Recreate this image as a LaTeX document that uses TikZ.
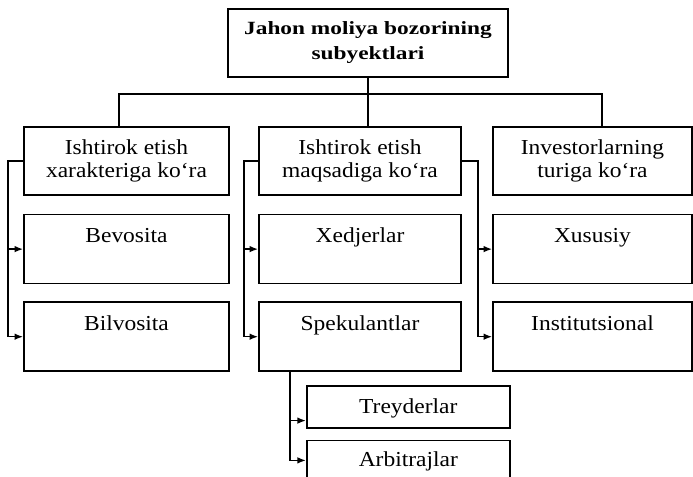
\documentclass[tikz,border=0pt]{standalone}
\usepackage{fontspec}
\setmainfont{Liberation Serif}[FakeStretch=1.1]
\newfontfamily\titlefont{Liberation Serif}[FakeStretch=1.25]
\usepackage{tikz}
\usetikzlibrary{positioning, arrows.meta}

\begin{document}
\begin{tikzpicture}[x=0.75pt, y=-0.75pt, font=\fontsize{16}{17.25}\selectfont, >={Latex[length=6.5pt, width=5pt]}, line width=1.2pt,
  titlebox/.style={rectangle, draw, minimum width=210pt, minimum height=51pt, align=center, font=\titlefont\bfseries\fontsize{14}{18.75}\selectfont},
  katbox/.style={rectangle, draw, minimum height=51pt, align=center},
  itembox/.style={rectangle, draw, inner ysep=0pt, text height=21pt, text depth=30.75pt},
  subbox/.style={rectangle, draw, inner ysep=0pt, minimum width=152.25pt, text height=21pt, text depth=10.5pt}]
  \clip (0,0) rectangle (693,477);
  \node[titlebox] (top) at (368,43) {Jahon moliya bozorining\\subyektlari};
  \node[katbox, minimum width=153.75pt] (kat1) at (126.5,161) {Ishtirok etish\\xarakteriga ko‘ra};
  \node[katbox, minimum width=151.5pt] (kat2) at (360,161) {Ishtirok etish\\maqsadiga ko‘ra};
  \node[katbox, minimum width=149.25pt] (kat3) at (592.5,161) {Investorlarning\\turiga ko‘ra};
  \node[itembox, minimum width=153.75pt, below=13.5pt of kat1] (bev) {Bevosita};
  \node[itembox, minimum width=153.75pt, below=12.75pt of bev] (bil) {Bilvosita};
  \node[itembox, minimum width=151.5pt, below=13.5pt of kat2] (xed) {Xedjerlar};
  \node[itembox, minimum width=151.5pt, below=12.75pt of xed] (spek) {Spekulantlar};
  \node[itembox, minimum width=149.25pt, below=13.5pt of kat3] (xus) {Xususiy};
  \node[itembox, minimum width=149.25pt, below=12.75pt of xus] (inst) {Institutsional};
  \node[subbox, anchor=north west] (trey) at (306,385) {Treyderlar};
  \node[subbox, text height=19.5pt, below=8.25pt of trey] (arb) {Arbitrajlar};
  \coordinate (busL) at (119,94);
  \coordinate (busR) at (602,94);
  \draw (top.south) -- (top.south |- kat2.north);
  \draw (busL |- kat1.north) |- (busR) -- (busR |- kat3.north);
  \draw[->] (kat1.west) -- ++(-15,0) |- (bev.west);
  \draw[->] (kat1.west) -- ++(-15,0) |- (bil.west);
  \draw[->] (kat2.west) -- ++(-14,0) |- (xed.west);
  \draw[->] (kat2.west) -- ++(-14,0) |- (spek.west);
  \draw[->] (kat2.east) -- ++(16,0) |- (xus.west);
  \draw[->] (kat2.east) -- ++(16,0) |- (inst.west);
  \draw[->] ([xshift=24pt]spek.south west) |- ([yshift=6pt]trey.south west);
  \draw[->] ([xshift=24pt]spek.south west) |- (arb.west);
\end{tikzpicture}
\end{document}
